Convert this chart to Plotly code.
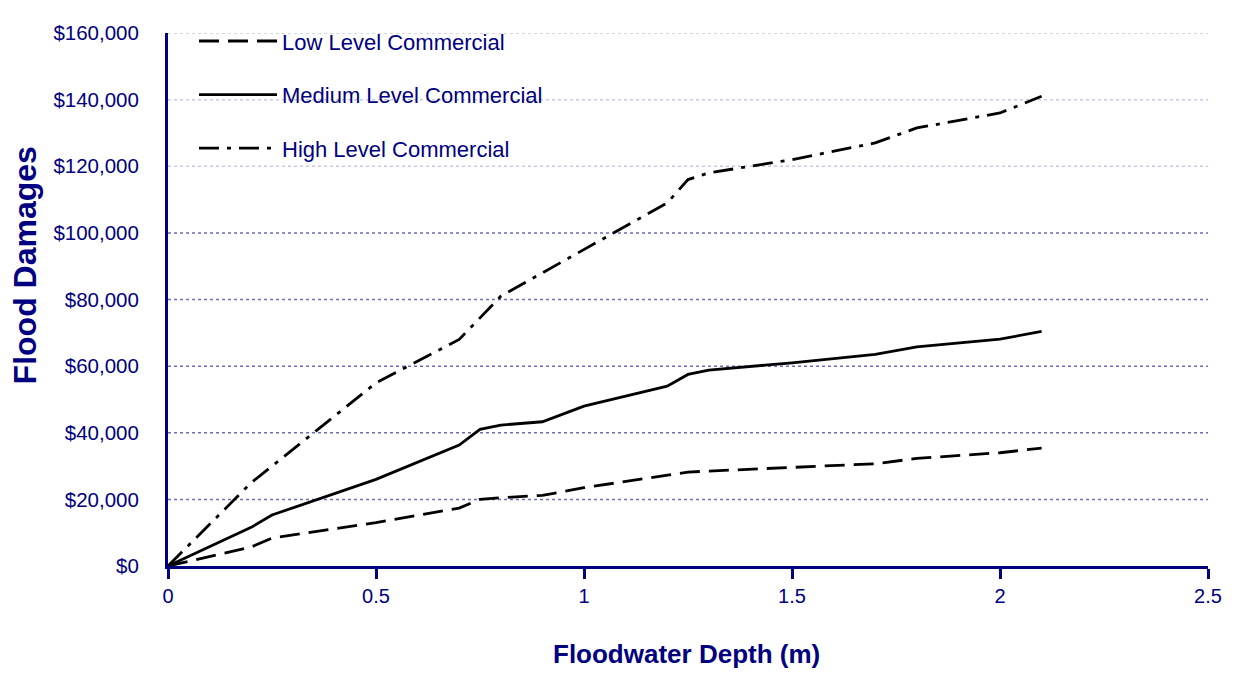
import plotly.graph_objects as go

# floodwater depth (m)
depth = [0, 0.2, 0.25, 0.5, 0.7, 0.75, 0.8, 0.9, 1.0, 1.2, 1.25, 1.3, 1.5, 1.7, 1.8, 2.0, 2.1]

# damages ($)
low_level = [0, 5700, 8400, 13000, 17400, 20000, 20500, 21200, 23500, 27300, 28200, 28500,
             29500, 30700, 32300, 34000, 35400]
medium_level = [0, 11600, 15300, 26000, 36300, 41000, 42300, 43300, 48000, 54000, 57500, 58800,
                61000, 63500, 65800, 68100, 70400]
high_level = [0, 25000, 30000, 55000, 68000, 74500, 81000, 88000, 95000, 109000, 116000, 118000,
              122000, 127000, 131500, 136000, 141000]

series_names = ["Low Level Commercial", "Medium Level Commercial", "High Level Commercial"]
y_ticks = [0, 20000, 40000, 60000, 80000, 100000, 120000, 140000, 160000]
x_ticks = [0, 0.5, 1, 1.5, 2, 2.5]

navy = "#000080"
font_main = "Liberation Sans, Arial"

fig = go.Figure()
styles = ["20px,9px", "solid", "20px,8px,4px,8px"]
for name, vals, dash in zip(series_names, [low_level, medium_level, high_level], styles):
    fig.add_trace(go.Scatter(x=depth, y=vals, mode="lines", name=name, legendgroup=name,
                             line=dict(color="black", width=2.8, dash=dash)))

# dotted horizontal grid (top ones look paler in the original)
for v in y_ticks[1:]:
    fig.add_shape(type="line", xref="paper", x0=0, x1=1, yref="y", y0=v, y1=v,
                  line=dict(color="#c8c8e6" if v >= 120000 else "#6b6bbf", width=1.5, dash="dot"),
                  layer="below")

# the page body has an 8px margin, so the figure is a bit smaller than the window
fig.update_layout(
    width=1226, height=666,
    margin=dict(l=160, r=26, t=14, b=108),
    plot_bgcolor="white", paper_bgcolor="white",
    font=dict(family=font_main, color=navy, size=20),
    showlegend=True,
    legend=dict(x=0.025, y=1.024, xanchor="left", yanchor="top", bgcolor="rgba(0,0,0,0)",
                font=dict(size=22, color=navy, family=font_main), itemwidth=78,
                tracegroupgap=22),
)
fig.update_xaxes(range=[0, 2.5], tickvals=x_ticks, ticktext=["0", "0.5", "1", "1.5", "2", "2.5"],
                 showline=True, linecolor=navy, linewidth=3, ticks="outside", ticklen=10,
                 tickcolor=navy, tickwidth=3, showgrid=False, zeroline=False,
                 tickfont=dict(size=20, color=navy))
fig.update_yaxes(range=[0, 160000], tickvals=y_ticks,
                 ticktext=["$" + format(v, ",") for v in y_ticks],
                 showline=True, linecolor=navy, linewidth=3, ticks="", showgrid=False,
                 zeroline=False, ticklabelstandoff=22, tickfont=dict(size=20.5, color=navy))

fig.add_annotation(text="<b>Floodwater Depth (m)</b>", xref="paper", yref="paper", x=0.4981, y=-0.166,
                   showarrow=False, font=dict(size=26, color=navy, family=font_main),
                   xanchor="center", yanchor="middle")
fig.add_annotation(text="<b>Flood Damages</b>", xref="paper", yref="paper", x=-0.1375, y=0.564,
                   showarrow=False, textangle=-90, font=dict(size=32, color=navy, family=font_main),
                   xanchor="center", yanchor="middle")

fig.write_html("out.html")
